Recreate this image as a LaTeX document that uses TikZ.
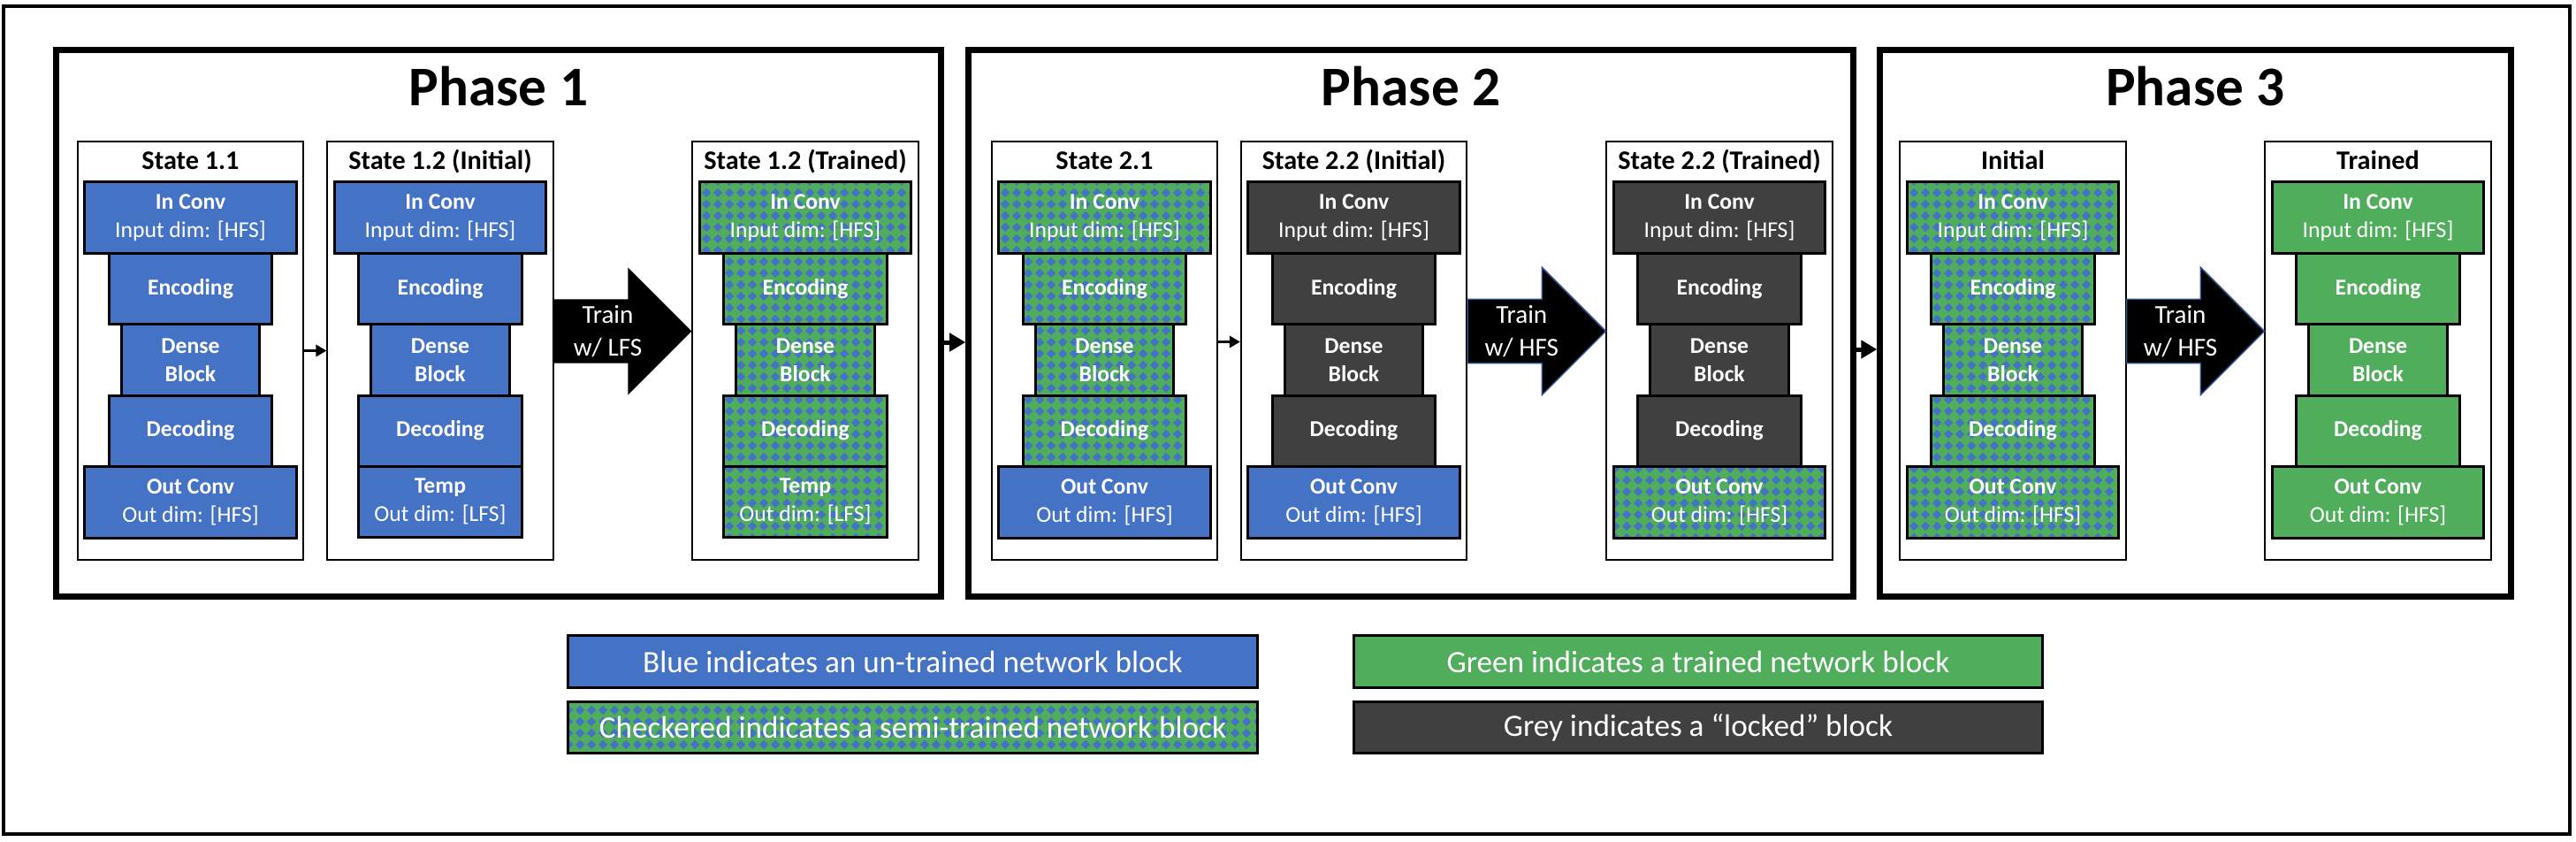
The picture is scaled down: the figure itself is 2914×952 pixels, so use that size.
\documentclass[tikz,border=0pt]{standalone}
\usepackage{fontspec}
\setmainfont{Carlito}
\usepackage{tikz}
\usetikzlibrary{arrows.meta, positioning, patterns, calc}

\definecolor{netblue}{HTML}{4472C4}
\definecolor{netgreen}{HTML}{4FAD5B}
\definecolor{netgrey}{HTML}{404040}
\definecolor{arrowrim}{HTML}{2F528F}

\pgfdeclarepatternformonly{checker}{\pgfpointorigin}{\pgfpoint{0.13cm}{0.13cm}}{\pgfpoint{0.13cm}{0.13cm}}{%
  \pgfpathmoveto{\pgfpoint{0.065cm}{0.01cm}}%
  \pgfpathlineto{\pgfpoint{0.12cm}{0.065cm}}%
  \pgfpathlineto{\pgfpoint{0.065cm}{0.12cm}}%
  \pgfpathlineto{\pgfpoint{0.01cm}{0.065cm}}%
  \pgfpathclose
  \pgfusepath{fill}}

% one network stack inside a state box
\newcommand{\netstack}[8]{%
  \node[blk, convw, #2, below=0.47cm of #1.north] (#1-in) {\textbf{In Conv}\\Input dim: [HFS]};
  \node[blk, midw, #3, below=0pt of #1-in] (#1-enc) {\textbf{Encoding}};
  \node[blk, densew, #4, below=0pt of #1-enc] (#1-dense) {\textbf{Dense}\\\textbf{Block}};
  \node[blk, midw, #5, below=0pt of #1-dense] (#1-dec) {\textbf{Decoding}};
  \node[blk, #7, #6, below=0pt of #1-dec] (#1-out) {#8};
}

% block arrow between two state boxes
\newcommand{\trainarrow}[4]{%
  \fill[#3] ([yshift=0.58cm]#1.east) -- ([xshift=-0.72cm,yshift=0.58cm]#2.west)
    -- ([xshift=-0.72cm,yshift=0.94cm]#2.west) -- ([yshift=0.22cm]#2.west)
    -- ([xshift=-0.72cm,yshift=-0.50cm]#2.west) -- ([xshift=-0.72cm,yshift=-0.14cm]#2.west)
    -- ([yshift=-0.14cm]#1.east) -- cycle;
  \node[trainlbl] (#1-train) at ($(#1.east)!0.5!(#2.west)+(-17,-22)$) {#4};
}

\begin{document}
\begin{tikzpicture}[
    x=0.01cm, y=-0.01cm,
    frame/.style={rectangle, draw=black, line width=0.04cm, minimum width=29.01cm, minimum height=9.36cm, inner sep=0},
    phase/.style={rectangle, draw=black, line width=0.07cm, minimum height=6.17cm, inner sep=0},
    phtitle/.style={anchor=base, font=\fontsize{18}{22}\selectfont\bfseries},
    state/.style={rectangle, draw=black, line width=0.02cm, minimum width=2.55cm, minimum height=4.73cm, inner sep=0},
    stitle/.style={anchor=base, font=\fontsize{8.6}{10}\selectfont\bfseries},
    blk/.style={rectangle, draw=black, line width=0.03cm, inner sep=0, outer sep=0, align=center, text=white, font=\fontsize{7.3}{9.1}\selectfont},
    convw/.style={minimum width=2.39cm, minimum height=0.81cm},
    midw/.style={minimum width=1.84cm, minimum height=0.80cm},
    densew/.style={minimum width=1.56cm, minimum height=0.80cm},
    blu/.style={fill=netblue},
    grn/.style={fill=netgreen},
    gry/.style={fill=netgrey},
    chk/.style={preaction={fill=netgreen}, pattern=checker, pattern color=netblue},
    trainlbl/.style={align=center, text=white, inner sep=0, font=\fontsize{8.3}{10.5}\selectfont},
    sarrow/.style={draw=black, line width=0.035cm, -{Triangle[length=0.12cm, width=0.13cm]}},
    parrow/.style={draw=black, line width=0.05cm, -{Triangle[length=0.18cm, width=0.2cm]}},
    legend/.style={rectangle, draw=black, line width=0.03cm, minimum width=7.79cm, minimum height=0.58cm, inner sep=0, text=white, font=\fontsize{10}{12}\selectfont}
]
    \useasboundingbox (0,0) rectangle (2914,952);
    \node[frame] (frame) at (1455.5,475) {};

    % Phases
    \node[phase, minimum width=10cm] (ph1) at (564,365.5) {};
    \node[phase, minimum width=10cm] (ph2) at (1596,365.5) {};
    \node[phase, minimum width=7.13cm] (ph3) at (2483.5,365.5) {};
    \node[phtitle] (ph1lbl) at ([yshift=-0.66cm]ph1.north) {Phase 1};
    \node[phtitle] (ph2lbl) at ([yshift=-0.66cm]ph2.north) {Phase 2};
    \node[phtitle] (ph3lbl) at ([yshift=-0.66cm]ph3.north) {Phase 3};

    % States
    \node[state] (s11) at (215.5,396.5) {};
    \node[state] (s12i) at (498,396.5) {};
    \node[state] (s12t) at (911,396.5) {};
    \node[state] (s21) at (1249.5,396.5) {};
    \node[state] (s22i) at (1531.5,396.5) {};
    \node[state] (s22t) at (1945,396.5) {};
    \node[state] (p3i) at (2277,396.5) {};
    \node[state] (p3t) at (2690,396.5) {};

    \node[stitle] (s11lbl) at ([yshift=-0.33cm]s11.north) {State 1.1};
    \node[stitle] (s12ilbl) at ([yshift=-0.33cm]s12i.north) {State 1.2 (Initial)};
    \node[stitle] (s12tlbl) at ([yshift=-0.33cm]s12t.north) {State 1.2 (Trained)};
    \node[stitle] (s21lbl) at ([yshift=-0.33cm]s21.north) {State 2.1};
    \node[stitle] (s22ilbl) at ([yshift=-0.33cm]s22i.north) {State 2.2 (Initial)};
    \node[stitle] (s22tlbl) at ([yshift=-0.33cm]s22t.north) {State 2.2 (Trained)};
    \node[stitle] (p3ilbl) at ([yshift=-0.33cm]p3i.north) {Initial};
    \node[stitle] (p3tlbl) at ([yshift=-0.33cm]p3t.north) {Trained};

    % Network blocks
    \netstack{s11}{blu}{blu}{blu}{blu}{blu}{convw}{\textbf{Out Conv}\\Out dim: [HFS]}
    \netstack{s12i}{blu}{blu}{blu}{blu}{blu}{midw}{\textbf{Temp}\\Out dim: [LFS]}
    \netstack{s12t}{chk}{chk}{chk}{chk}{chk}{midw}{\textbf{Temp}\\Out dim: [LFS]}
    \netstack{s21}{chk}{chk}{chk}{chk}{blu}{convw}{\textbf{Out Conv}\\Out dim: [HFS]}
    \netstack{s22i}{gry}{gry}{gry}{gry}{blu}{convw}{\textbf{Out Conv}\\Out dim: [HFS]}
    \netstack{s22t}{gry}{gry}{gry}{gry}{chk}{convw}{\textbf{Out Conv}\\Out dim: [HFS]}
    \netstack{p3i}{chk}{chk}{chk}{chk}{chk}{convw}{\textbf{Out Conv}\\Out dim: [HFS]}
    \netstack{p3t}{grn}{grn}{grn}{grn}{grn}{convw}{\textbf{Out Conv}\\Out dim: [HFS]}

    % Training arrows
    \trainarrow{s12i}{s12t}{black}{Train\\w/ LFS}
    \trainarrow{s22i}{s22t}{black, draw=arrowrim, line width=0.015cm}{Train\\w/ HFS}
    \trainarrow{p3i}{p3t}{black, draw=arrowrim, line width=0.015cm}{Train\\w/ HFS}

    % Connectors
    \draw[sarrow] (s11.east) -- (s12i.west);
    \draw[sarrow] ([yshift=0.1cm]s21.east) -- ([yshift=0.1cm]s22i.west);
    \draw[parrow] ([yshift=-0.215cm]ph1.east) -- ([yshift=-0.215cm]ph2.west);
    \draw[parrow] ([yshift=-0.295cm]ph2.east) -- ([yshift=-0.295cm]ph3.west);

    % Legend
    \node[legend, blu] (legblue) at (1032.5,748) {Blue indicates an un-trained network block};
    \node[legend, grn] (leggreen) at (1921,748) {Green indicates a trained network block};
    \node[legend, chk] (legchk) at (1032.5,822.5) {Checkered indicates a semi-trained network block};
    \node[legend, gry] (leggrey) at (1921,822.5) {Grey indicates a ``locked'' block};
\end{tikzpicture}
\end{document}
